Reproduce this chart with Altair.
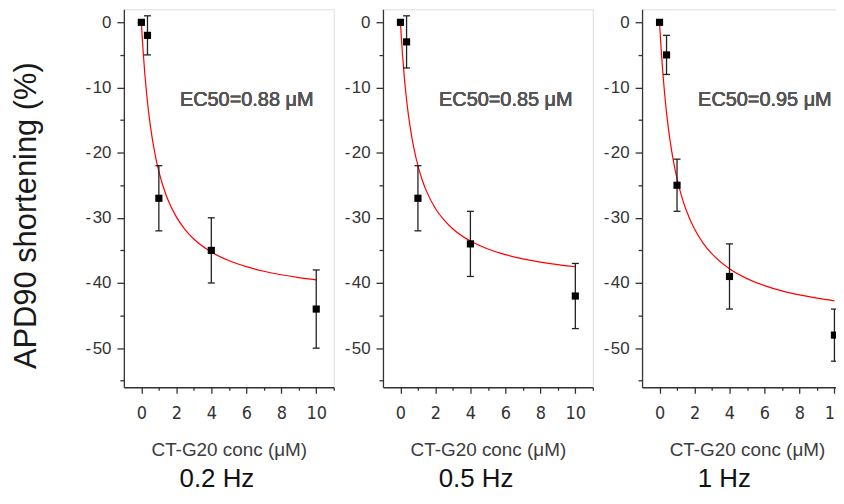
import altair as alt
import pandas as pd

# ---- measured points (concentration in uM, APD90 shortening in %) ----
conc_a = [0, 0.35, 1, 4, 10]
conc_c = [0, 0.4, 1, 4, 10]

mean_02 = [0, -2, -27, -35, -44]
err_02 = [0, 3, 5, 5, 6]
mean_05 = [0, -3, -27, -34, -42]
err_05 = [0, 4, 5, 5, 5]
mean_1 = [0, -5, -25, -39, -48]
err_1 = [0, 3, 4, 5, 4]

# ---- fitted curves ----
fit_x = [0, 0.05, 0.1, 0.2, 0.3, 0.45, 0.6, 0.8, 1, 1.25, 1.5, 2, 2.5, 3, 4, 5, 6, 7, 8, 9, 10]
fit_02 = [0, -2.31, -4.39, -7.96, -10.93, -14.55, -17.43, -20.48, -22.87, -25.23, -27.10,
          -29.86, -31.80, -33.25, -35.25, -36.56, -37.50, -38.20, -38.74, -39.17, -39.52]
fit_05 = [0, -2.26, -4.28, -7.75, -10.62, -14.09, -16.84, -19.73, -22.0, -24.23, -25.98,
          -28.56, -30.37, -31.71, -33.57, -34.79, -35.65, -36.29, -36.79, -37.19, -37.51]
fit_1 = [0, -2.34, -4.46, -8.14, -11.23, -15.04, -18.12, -21.39, -24.0, -26.59, -28.65,
         -31.73, -33.91, -35.54, -37.82, -39.33, -40.40, -41.21, -41.83, -42.33, -42.74]

panel_titles = ["0.2 Hz", "0.5 Hz", "1 Hz"]
ec50_labels = ["EC50=0.88 \u03bcM", "EC50=0.85 \u03bcM", "EC50=0.95 \u03bcM"]
x_title = "CT-G20 conc (\u03bcM)"
y_title = "APD90 shortening (%)"
x_ticks = list(range(0, 12))
y_ticks = list(range(-55, 5, 5))

FONT = "Liberation Sans"
NARROW = "Liberation Sans Narrow, Arial Narrow, DejaVu Sans Condensed, Liberation Sans"
AX = "#333333"

W, H = 211, 380


def make_panel(idx, conc, mean, err, fit):
    pts = pd.DataFrame({
        "conc": conc,
        "mean": mean,
        "lo": [m - e for m, e in zip(mean, err)],
        "hi": [m + e for m, e in zip(mean, err)],
    })
    curve = pd.DataFrame({"conc": fit_x, "mean": fit})

    xaxis = alt.Axis(
        values=x_ticks,
        labelExpr="datum.value % 2 == 0 && datum.value <= 10 ? datum.label : ''",
        tickSize={"condition": {"test": "datum.value % 2 == 0", "value": 6}, "value": 3},
        labelFont=NARROW, labelFontSize=18, labelColor=AX, labelPadding=11.5,
        title=x_title, titleFont=FONT, titleFontSize=19, titleFontWeight="normal",
        titleColor="#3c3c3c", titlePadding=18.5, titleX=105.5,
        domainColor=AX, tickColor=AX, domainWidth=1.3, tickWidth=1.3, grid=False,
    )
    yaxis_kwargs = dict(
        values=y_ticks,
        labelExpr="datum.value % 10 == 0 ? (datum.value == 0 ? '0' : '-\u200a' + abs(datum.value)) : ''",
        tickSize={"condition": {"test": "datum.value % 10 == 0", "value": 7}, "value": 4},
        labelFont=FONT, labelFontSize=17, labelColor=AX, labelPadding=6,
        domainColor=AX, tickColor=AX, domainWidth=1.3, tickWidth=1.3, grid=False,
    )
    if idx == 0:
        yaxis = alt.Axis(title=y_title, titleFont=FONT, titleFontSize=31,
                         titleFontWeight="normal", titleColor="#1a1a1a",
                         titleX=-98, titleY=207, titleBaseline="middle",
                         titleAlign="center", titleAngle=270, **yaxis_kwargs)
    else:
        yaxis = alt.Axis(title=None, **yaxis_kwargs)

    xs = alt.Scale(domain=[-1, 11], nice=False, zero=False)
    ys = alt.Scale(domain=[-56, 2], nice=False, zero=False)

    X = alt.X("conc:Q", scale=xs, axis=xaxis)

    line = alt.Chart(curve).mark_line(color="#ff0000", strokeWidth=1.2, interpolate="monotone").encode(
        x=X, y=alt.Y("mean:Q", scale=ys, axis=yaxis)
    )
    bars = alt.Chart(pts).mark_rule(color="#222222", strokeWidth=1.3).encode(
        x=X, y=alt.Y("lo:Q", scale=ys, axis=yaxis), y2="hi:Q"
    )
    cap_lo = alt.Chart(pts).mark_tick(orient="horizontal", size=7, thickness=1.3, color="#222222", opacity=1).encode(
        x=X, y=alt.Y("lo:Q", scale=ys, axis=yaxis)
    )
    cap_hi = alt.Chart(pts).mark_tick(orient="horizontal", size=7, thickness=1.3, color="#222222", opacity=1).encode(
        x=X, y=alt.Y("hi:Q", scale=ys, axis=yaxis)
    )
    sq = alt.Chart(pts).mark_square(size=52, color="black", opacity=1, filled=True).encode(
        x=X, y=alt.Y("mean:Q", scale=ys, axis=yaxis)
    )
    label = alt.Chart(pts).mark_text(text=ec50_labels[idx], font=FONT, fontSize=20, fontWeight="normal",
                                      color="#555555", align="center", baseline="middle").encode(
        x=alt.value(123.5), y=alt.value(91)
    )

    return alt.layer(line, bars, cap_lo, cap_hi, sq, label).properties(
        width=W, height=H,
        title=alt.TitleParams(text=panel_titles[idx], orient="bottom", anchor="start", frame="group",
                              dx=56, offset=6, font=FONT, fontSize=26, fontWeight="normal",
                              color="#111111"),
    )


p1 = make_panel(0, conc_a, mean_02, err_02, fit_02)
p2 = make_panel(1, conc_a, mean_05, err_05, fit_05)
p3 = make_panel(2, conc_c, mean_1, err_1, fit_1)

chart = alt.hconcat(p1, p2, p3, spacing=49.5, bounds="flush").properties(
    padding={"left": 1.5, "top": -1, "right": -18, "bottom": -5}
).configure_view(stroke=None).configure(background="white")

chart.save("out.html", embed_options={"renderer": "svg", "actions": False})
